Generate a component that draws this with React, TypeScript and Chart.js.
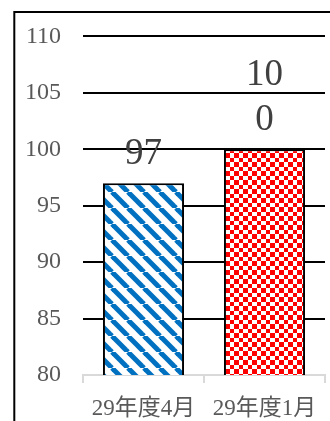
import React, { useEffect, useRef } from 'react';
import { Chart, registerables } from 'chart.js';

Chart.register(...registerables);

const categories = ['29年度4月', '29年度1月'];
const values = [97, 100];
const valueLabels = [['97'], ['10', '0']];
const yMin = 80;
const yMax = 110;
const yStep = 5;

const FONT = "'Liberation Serif', 'Noto Sans CJK JP', serif";

function makeStripe(): CanvasPattern | string {
  const s = 16;
  const c = document.createElement('canvas');
  c.width = s;
  c.height = s;
  const g = c.getContext('2d');
  if (!g) return '#0070C0';
  g.fillStyle = '#ffffff';
  g.fillRect(0, 0, s, s);
  g.strokeStyle = '#0070C0';
  g.lineWidth = 5;
  for (const o of [-s, 0, s]) {
    g.beginPath();
    g.moveTo(o, 0);
    g.lineTo(o + s, s);
    g.stroke();
  }
  return g.createPattern(c, 'repeat') || '#0070C0';
}

function makeChecker(): CanvasPattern | string {
  const s = 9;
  const a = 5;
  const c = document.createElement('canvas');
  c.width = s;
  c.height = s;
  const g = c.getContext('2d');
  if (!g) return '#FF0000';
  g.fillStyle = '#ffffff';
  g.fillRect(0, 0, s, s);
  g.fillStyle = '#FF0000';
  g.fillRect(0, 0, a, a);
  g.fillRect(a, a, s - a, s - a);
  return g.createPattern(c, 'repeat') || '#FF0000';
}

const framePlugin = {
  id: 'frame',
  afterDraw(chart: any) {
    const ctx = chart.ctx;
    ctx.save();
    ctx.strokeStyle = '#000000';
    ctx.lineWidth = 2;
    ctx.strokeRect(14.3, 12, 400, 500);
    ctx.restore();
  },
};

const labelPlugin = {
  id: 'valueLabels',
  afterDatasetsDraw(chart: any) {
    const ctx = chart.ctx;
    const meta = chart.getDatasetMeta(0);
    ctx.save();
    ctx.font = `37px ${FONT}`;
    ctx.fillStyle = '#404040';
    ctx.textAlign = 'center';
    ctx.textBaseline = 'alphabetic';
    meta.data.forEach((el: any, i: number) => {
      const lines = valueLabels[i];
      const lh = 45;
      let y = el.y - 19;
      for (let k = lines.length - 1; k >= 0; k--) {
        ctx.fillText(lines[k], el.x, y);
        y -= lh;
      }
    });
    ctx.restore();
  },
};

export default function App() {
  const ref = useRef<HTMLCanvasElement | null>(null);
  useEffect(() => {
    document.body.style.margin = '0';
    const canvas = ref.current;
    if (!canvas) return;
    const chart = new Chart(canvas, {
      type: 'bar',
      data: {
        labels: categories,
        datasets: [
          {
            data: values,
            backgroundColor: [makeStripe(), makeChecker()],
            borderColor: '#000000',
            borderWidth: 2,
            borderSkipped: false,
            barPercentage: 0.67,
            categoryPercentage: 1,
          },
        ],
      },
      options: {
        animation: false,
        responsive: false,
        devicePixelRatio: 1,
        layout: { padding: { left: 0, right: 5, top: 32, bottom: 0 } },
        plugins: {
          legend: { display: false },
          tooltip: { enabled: false },
        },
        scales: {
          x: {
            grid: {
              drawOnChartArea: false,
              drawTicks: true,
              tickLength: 8,
              color: '#D9D9D9',
              lineWidth: 2,
              offset: true,
            },
            border: { display: true, color: '#D9D9D9', width: 2 },
            ticks: {
              color: '#595959',
              font: { family: FONT, size: 23 },
              padding: 12,
              maxRotation: 0,
              autoSkip: false,
            },
            afterFit(s: any) {
              s.height = 46;
            },
          },
          y: {
            min: yMin,
            max: yMax,
            grid: {
              drawTicks: false,
              color: (c: any) => (c.tick && c.tick.value === yMin ? 'rgba(0,0,0,0)' : '#000000'),
              lineWidth: 2,
            },
            border: { display: false },
            ticks: {
              stepSize: yStep,
              color: '#595959',
              font: { family: FONT, size: 24 },
              padding: 22,
            },
            afterFit(s: any) {
              s.width = 83;
            },
          },
        },
      },
      plugins: [framePlugin, labelPlugin],
    });
    return () => chart.destroy();
  }, []);
  return <canvas ref={ref} width={330} height={421} style={{ display: 'block', width: 330, height: 421 }} />;
}
